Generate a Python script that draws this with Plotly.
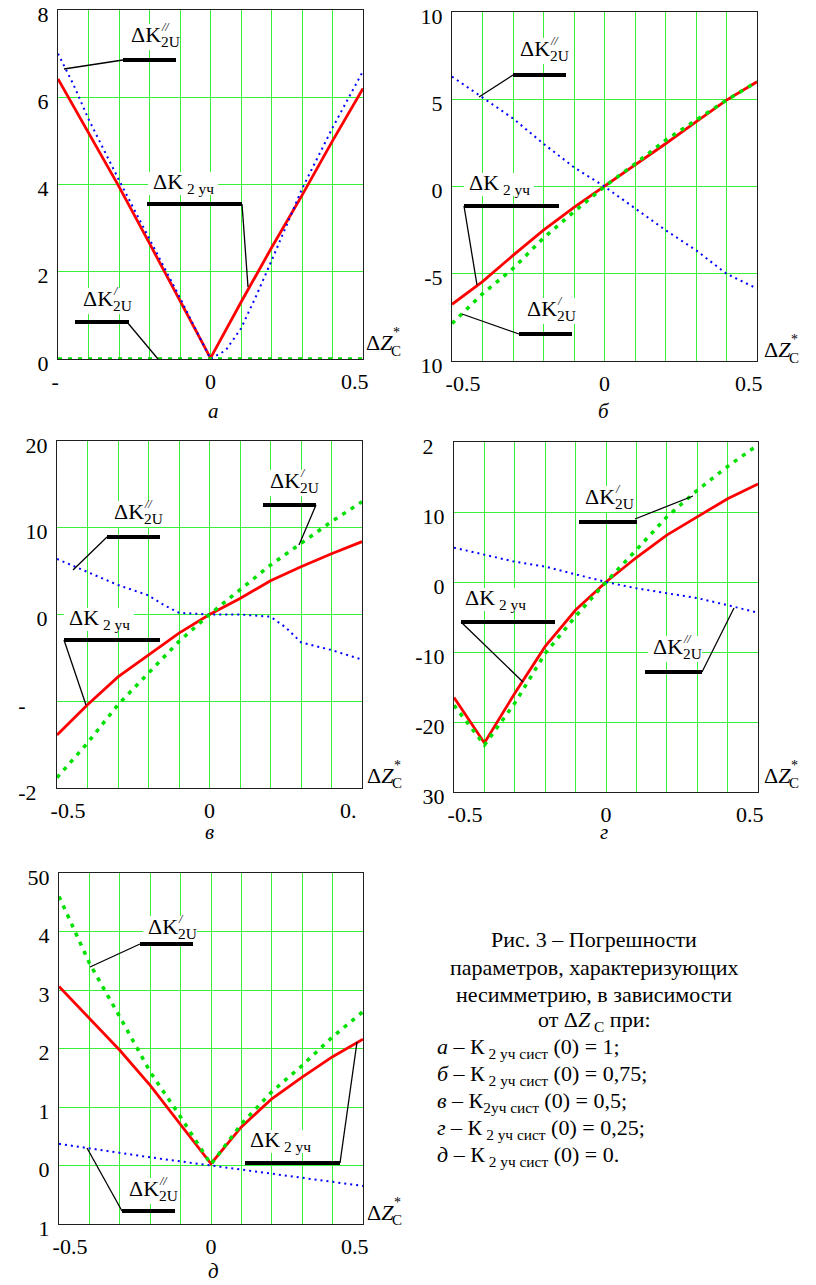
import plotly.graph_objects as go

W, H = 816, 1285

# x values of the computed points (ΔZ*c)
x_pts = [-0.5, -0.4, -0.3, -0.2, -0.1, 0, 0.1, 0.2, 0.3, 0.4, 0.5]

# а : K2уч сист(0) = 1
a_red = [6.42, 5.2, 3.95, 2.65, 1.35, 0.02, 1.3, 2.55, 3.75, 5.0, 6.2]
a_green = [0, 0, 0, 0, 0, 0, 0, 0, 0, 0, 0]
a_blue_x = [-0.5, -0.45, -0.4, -0.3, -0.2, -0.1, 0, 0.05, 0.1, 0.15, 0.2, 0.3, 0.4, 0.5]
a_blue = [7.0, 6.3, 5.5, 4.1, 2.75, 1.4, 0.0, 0.2, 0.7, 1.45, 2.25, 3.9, 5.3, 6.6]

# б : K2уч сист(0) = 0,75
b_red = [-6.75, -5.45, -3.95, -2.5, -1.2, 0, 1.2, 2.45, 3.7, 4.95, 6.0]
b_green = [-7.85, -6.15, -4.7, -2.95, -1.45, 0, 1.3, 2.65, 3.8, 4.95, 6.0]
b_blue = [6.3, 5.1, 3.9, 2.45, 1.1, 0, -1.25, -2.5, -3.65, -5.0, -5.85]

# в : K2уч сист(0) = 0,5
c_red = [-13.9, -10.4, -7.2, -4.65, -2.15, 0, 1.85, 3.9, 5.5, 7.0, 8.4]
c_green = [-18.8, -14.8, -10.4, -6.8, -3.1, 0, 2.8, 5.7, 8.2, 10.7, 13.0]
c_blue_x = [-0.5, -0.4, -0.3, -0.2, -0.15, -0.1, 0, 0.1, 0.2, 0.25, 0.3, 0.4, 0.5]
c_blue = [6.4, 4.9, 3.4, 2.2, 1.1, 0.2, 0, 0, -0.25, -1.5, -3.2, -4.1, -5.2]

# г : K2уч сист(0) = 0,25
d_red = [-16.5, -23.0, -15.9, -9.2, -4.0, 0, 3.5, 6.7, 9.3, 11.9, 14.0]
d_green = [-17.6, -23.3, -17.3, -10.2, -4.9, 0, 4.6, 9.3, 13.1, 16.5, 19.6]
d_blue = [4.9, 3.85, 2.9, 2.2, 1.15, 0, -0.9, -1.6, -2.3, -3.3, -4.4]

# д : K2уч сист(0) = 0
e_red = [3.06, 2.51, 1.97, 1.37, 0.71, 0.03, 0.66, 1.14, 1.51, 1.86, 2.16]
e_green = [4.6, 3.46, 2.54, 1.6, 0.83, 0.02, 0.71, 1.26, 1.71, 2.2, 2.63]
e_blue = [0.37, 0.29, 0.21, 0.14, 0.07, 0, -0.06, -0.13, -0.2, -0.27, -0.35]

# tick labels (as printed, some of them cut off in the original)
def hid(s):
    return '<span style="color:white">' + s + '</span>'

NB = '\u00a0'
a_yvals, a_ytext = [0, 2, 4, 6, 8], ['0', '2', '4', '6', '8']
b_yvals, b_ytext = [-10, -5, 0, 5, 10], [hid('-') + '10', '-5', '0', '5', '10']
c_yvals, c_ytext = [-20, -10, 0, 10, 20], ['-2' + hid('0'), '-' + hid('10'), '0', '10', '20']
d_yvals, d_ytext = [-30, -20, -10, 0, 10, 20], [hid('-') + '30', '-20', '-10', '0', '10', '2' + hid('0')]
e_yvals, e_ytext = [-1, 0, 1, 2, 3, 4, 5], ['1', '0', '1', '2', '3', '4', '50']
a_xlab = ['-' + hid('0.5'), '0', '0.5']
b_xlab = ['-0.5', '0', '0.5']
c_xlab = ['-0.5', '0', '0.' + hid('5')]
d_xlab = ['-0.5', '0', '0.5']
e_xlab = ['-0.5', '0', '0.5']

RED, GREEN, BLUE, GRID = '#ff0000', '#00e000', '#0000ff', '#38f038'
FONT = '"Liberation Serif", "Times New Roman", Times, serif'

# panel: axis suffix, pixel box (left, right, top, bottom), y range, data
panels = [
    ('', (58, 363, 10, 359), [0, 8], a_yvals, a_ytext, a_xlab,
     (x_pts, a_red), (a_blue_x, a_blue), (x_pts, a_green)),
    ('2', (452, 757, 12, 361), [-10, 10], b_yvals, b_ytext, b_xlab,
     (x_pts, b_red), (x_pts, b_blue), (x_pts, b_green)),
    ('3', (57, 362, 441, 788), [-20, 20], c_yvals, c_ytext, c_xlab,
     (x_pts, c_red), (c_blue_x, c_blue), (x_pts, c_green)),
    ('4', (454, 758, 442, 792), [-30, 20], d_yvals, d_ytext, d_xlab,
     (x_pts, d_red), (x_pts, d_blue), (x_pts, d_green)),
    ('5', (59, 363, 873, 1224), [-1, 5], e_yvals, e_ytext, e_xlab,
     (x_pts, e_red), (x_pts, e_blue), (x_pts, e_green)),
]

fig = go.Figure()
layout = {}
for sfx, box, yr, yv, yt, xl, red, blue, green in panels:
    xa, ya = 'x' + sfx, 'y' + sfx
    fig.add_trace(go.Scatter(x=red[0], y=red[1], xaxis=xa, yaxis=ya, mode='lines',
                             line=dict(color=RED, width=2.8)))
    fig.add_trace(go.Scatter(x=blue[0], y=blue[1], xaxis=xa, yaxis=ya, mode='lines',
                             line=dict(color=BLUE, width=2, dash='2px,4px')))
    fig.add_trace(go.Scatter(x=green[0], y=green[1], xaxis=xa, yaxis=ya, mode='lines',
                             line=dict(color=GREEN, width=3.5, dash='4px,6px')))
    l, r, t, b = box
    xtext = [''] * 11
    xtext[0] = NB * 4 + xl[0]
    xtext[5] = xl[1]
    xtext[10] = xl[2] + NB * 3
    layout['xaxis' + sfx] = dict(
        domain=[l / W, r / W], anchor=ya, range=[-0.5, 0.5], automargin=False,
        tickmode='array', tickvals=x_pts, ticktext=xtext, ticklabeloverflow='allow',
        showgrid=True, gridcolor=GRID, gridwidth=1, zeroline=False,
        showline=True, linecolor='#202020', linewidth=1.2, mirror=True,
        ticks='', tickfont=dict(family=FONT, size=22, color='black'),
        ticklabelstandoff=2)
    layout['yaxis' + sfx] = dict(
        domain=[1 - b / H, 1 - t / H], anchor=xa, range=yr, automargin=False,
        tickmode='array', tickvals=yv, ticktext=yt, ticklabeloverflow='allow',
        showgrid=True, gridcolor=GRID, gridwidth=1, zeroline=False,
        showline=True, linecolor='#202020', linewidth=1.2, mirror=True,
        ticks='', tickfont=dict(family=FONT, size=22, color='black'),
        ticklabelstandoff=4, ticklabelshift=4)

fig.update_layout(**layout)


def seg(x0, y0, x1, y1, w):
    fig.add_shape(type='line', xref='paper', yref='paper',
                  x0=x0 / W, y0=1 - y0 / H, x1=x1 / W, y1=1 - y1 / H,
                  line=dict(color='black', width=w))


def blank(x0, y0, x1, y1):
    fig.add_shape(type='rect', xref='paper', yref='paper',
                  x0=x0 / W, y0=1 - y0 / H, x1=x1 / W, y1=1 - y1 / H,
                  line=dict(width=0), fillcolor='white')


def txt(x, y, s, size, anchor='left'):
    fig.add_annotation(xref='paper', yref='paper', x=x / W, y=1 - y / H, text=s,
                       showarrow=False, xanchor=anchor, yanchor='middle', borderpad=0,
                       font=dict(family=FONT, size=size, color='black'))


def k2u(x, y, prime):
    blank(x - 4, y - 14, x + 50, y + 12)
    txt(x, y - 2, 'ΔK<sub>2U</sub>', 22)
    txt(x + 30, y - 11, '<i>' + prime + '</i>', 12)


def k2uch(x, y):
    blank(x - 4, y - 12, x + 66, y + 11)
    txt(x, y - 1, 'ΔK<sub> 2 уч</sub>', 22)


def callout(bar, lead):
    seg(bar[0], bar[2], bar[1], bar[2], 4)
    seg(lead[0], lead[1], lead[2], lead[3], 1.3)


# а
k2u(130, 38, '//'); callout((123, 176, 60), (123, 60, 64, 69))
k2uch(152, 184); callout((147, 242, 204), (242, 204, 248, 287))
k2u(82, 302, '/'); callout((75, 129, 322), (127, 322, 158, 359))
# б
k2u(519, 52, '//'); callout((513, 566, 75), (513, 75, 479, 97))
k2uch(468, 185); callout((464, 559, 206), (464, 206, 477, 285))
k2u(526, 312, '/'); callout((519, 572, 334), (519, 334, 462, 314))
# в
k2u(113, 515, '//'); callout((107, 160, 537), (107, 537, 73, 570))
k2u(269, 484, '/'); callout((263, 316, 505), (316, 505, 299, 545))
k2uch(68, 620); callout((64, 160, 640), (64, 640, 86, 705))
# г
k2u(584, 500, '/'); callout((579, 637, 522), (635, 519, 693, 496))
k2uch(464, 600); callout((461, 555, 622), (461, 622, 523, 682))
k2u(652, 650, '//'); callout((645, 702, 672), (702, 672, 734, 608))
# д
k2u(147, 930, '/'); callout((140, 193, 944), (140, 944, 90, 967))
k2uch(249, 1142); callout((245, 340, 1163), (340, 1163, 357, 1042))
k2u(128, 1192, '//'); callout((122, 175, 1211), (122, 1211, 87, 1148))

# ΔZ*c axis names
for zx, zy in [(365, 343), (763, 350), (366, 775), (763, 775), (366, 1212)]:
    txt(zx, zy, 'Δ<i>Z</i>', 22)
    txt(zx + 27, zy - 10, '*', 14)
    txt(zx + 25, zy + 8, 'C', 15)

# panel letters
for lx, ly, s in [(213, 411, 'а'), (604, 411, 'б'), (210, 832, 'в'), (604, 832, 'г'), (213, 1271, 'д')]:
    txt(lx, ly, '<i>' + s + '</i>', 21, anchor='center')

# figure caption
head = ['Рис. 3 – Погрешности', 'параметров, характеризующих',
        'несимметрию, в зависимости', 'от Δ<i>Z</i><sub> C</sub> при:']
items = ['<i>а</i> – К<sub> 2 уч сист</sub> (0) = 1;',
         '<i>б</i> – К<sub> 2 уч сист</sub> (0) = 0,75;',
         '<i>в</i> – К<sub>2уч сист</sub> (0) = 0,5;',
         '<i>г</i> – К<sub> 2 уч сист</sub> (0) = 0,25;',
         '<i>д</i> – К<sub> 2 уч сист</sub> (0) = 0.']
for i, s in enumerate(head):
    txt(594, 940 + 27 * i, s, 22, anchor='center')
for i, s in enumerate(items):
    txt(436, 1048 + 27 * i, s, 22)

fig.update_layout(width=W, height=H, margin=dict(l=0, r=0, t=0, b=0),
                  paper_bgcolor='white', plot_bgcolor='white', showlegend=False)

fig.write_html("out.html", config={'displayModeBar': False},
               post_script="document.body.style.margin='0';")
